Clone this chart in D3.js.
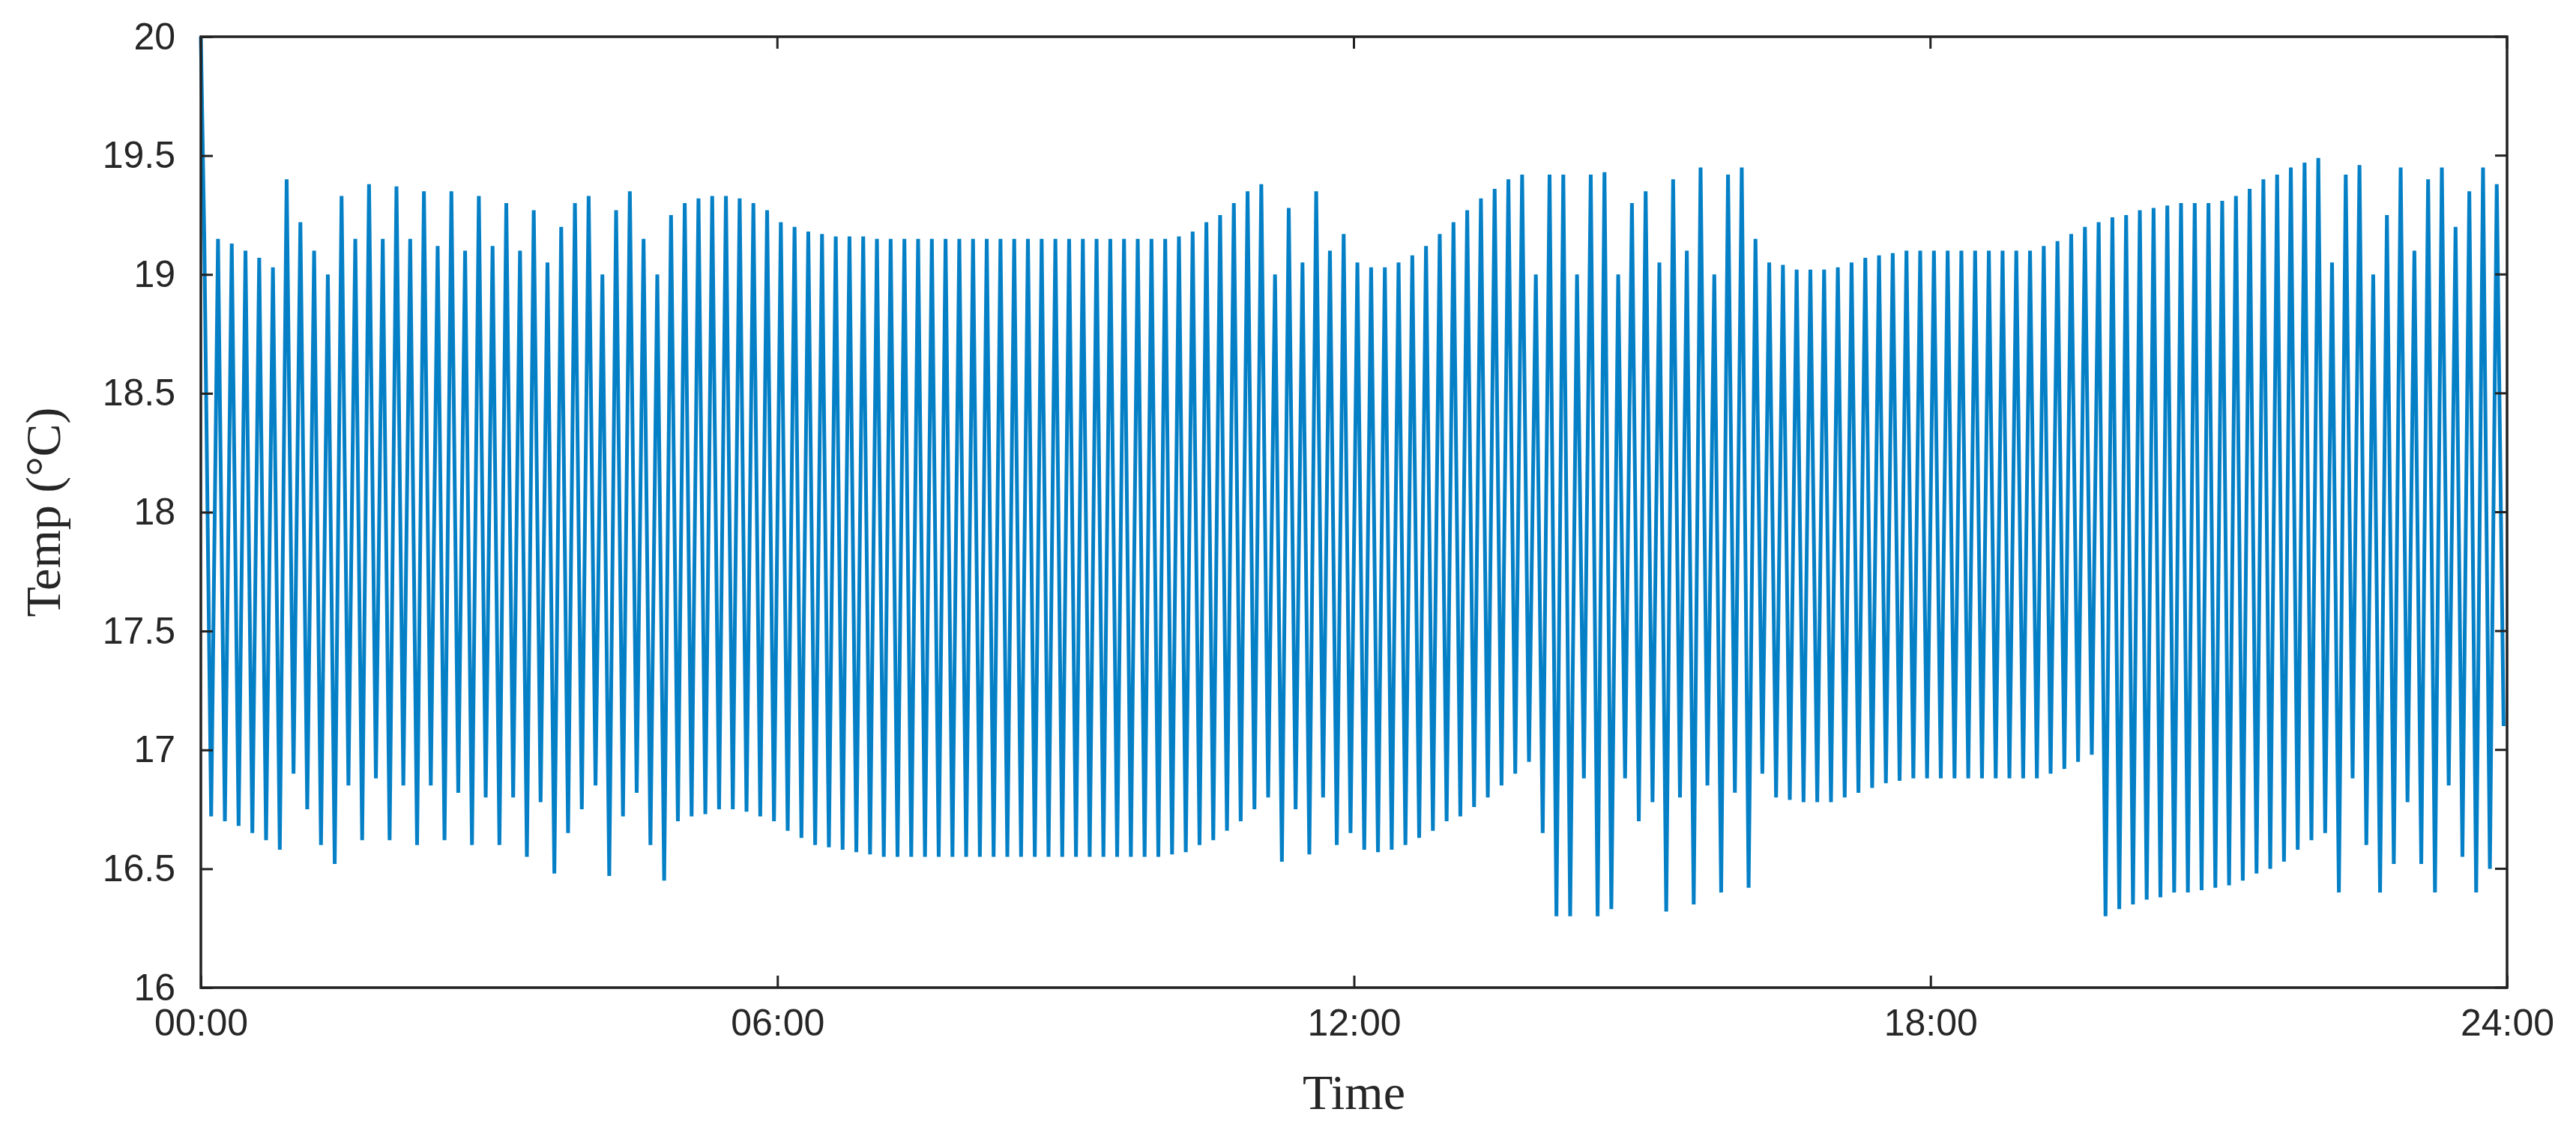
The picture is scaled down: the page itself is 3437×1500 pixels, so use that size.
<!DOCTYPE html>
<html><head><meta charset="utf-8">
<script src="https://cdn.jsdelivr.net/npm/d3@7"></script>
<style>body{margin:0;background:#fff}</style></head>
<body><svg id="c" width="3437" height="1500"></svg>
<script>
const yTicks=[16,16.5,17,17.5,18,18.5,19,19.5,20];
const xTickLabels=["00:00","06:00","12:00","18:00","24:00"];
const cyclesPerHour=7;
const startValue=20;
const peaks=[
19.15,19.15,19.13,19.1,19.07,19.03,19.4,
19.22,19.1,19.0,19.33,19.15,19.38,19.15,
19.37,19.15,19.35,19.12,19.35,19.1,19.33,
19.12,19.3,19.1,19.27,19.05,19.2,19.3,
19.33,19.0,19.27,19.35,19.15,19.0,19.25,
19.3,19.32,19.33,19.33,19.32,19.3,19.27,
19.22,19.2,19.18,19.17,19.16,19.16,19.16,
19.15,19.15,19.15,19.15,19.15,19.15,19.15,
19.15,19.15,19.15,19.15,19.15,19.15,19.15,
19.15,19.15,19.15,19.15,19.15,19.15,19.15,
19.15,19.16,19.18,19.22,19.25,19.3,19.35,
19.38,19.0,19.28,19.05,19.35,19.1,19.17,
19.05,19.03,19.03,19.05,19.08,19.12,19.17,
19.22,19.27,19.32,19.36,19.4,19.42,19.0,
19.42,19.42,19.0,19.42,19.43,19.0,19.3,
19.35,19.05,19.4,19.1,19.45,19.0,19.42,
19.45,19.15,19.05,19.04,19.02,19.02,19.02,
19.03,19.05,19.07,19.08,19.09,19.1,19.1,
19.1,19.1,19.1,19.1,19.1,19.1,19.1,
19.1,19.12,19.14,19.17,19.2,19.22,19.24,
19.25,19.27,19.28,19.29,19.3,19.3,19.3,
19.31,19.33,19.36,19.4,19.42,19.45,19.47,
19.49,19.05,19.42,19.46,19.0,19.25,19.45,
19.1,19.4,19.45,19.2,19.35,19.45,19.38];
const troughs=[
16.72,16.7,16.68,16.65,16.62,16.58,16.9,
16.75,16.6,16.52,16.85,16.62,16.88,16.62,
16.85,16.6,16.85,16.62,16.82,16.6,16.8,
16.6,16.8,16.55,16.78,16.48,16.65,16.75,
16.85,16.47,16.72,16.82,16.6,16.45,16.7,
16.72,16.73,16.75,16.75,16.74,16.72,16.7,
16.66,16.63,16.6,16.59,16.58,16.57,16.56,
16.55,16.55,16.55,16.55,16.55,16.55,16.55,
16.55,16.55,16.55,16.55,16.55,16.55,16.55,
16.55,16.55,16.55,16.55,16.55,16.55,16.55,
16.56,16.57,16.6,16.62,16.66,16.7,16.75,
16.8,16.53,16.75,16.56,16.8,16.6,16.65,
16.58,16.57,16.58,16.6,16.63,16.66,16.7,
16.72,16.76,16.8,16.85,16.9,16.95,16.65,
16.3,16.3,16.88,16.3,16.33,16.88,16.7,
16.78,16.32,16.8,16.35,16.85,16.4,16.82,
16.42,16.9,16.8,16.79,16.78,16.78,16.78,
16.8,16.82,16.84,16.86,16.87,16.88,16.88,
16.88,16.88,16.88,16.88,16.88,16.88,16.88,
16.88,16.9,16.92,16.95,16.98,16.3,16.33,
16.35,16.37,16.38,16.4,16.4,16.41,16.42,
16.43,16.45,16.48,16.5,16.53,16.58,16.62,
16.65,16.4,16.88,16.6,16.4,16.52,16.78,
16.52,16.4,16.85,16.55,16.4,16.5,17.1];

const L=268,R=3345,T=49,B=1318;
const svg=d3.select("#c");
const x=d3.scaleLinear().domain([0,24]).range([L,R]);
const y=d3.scaleLinear().domain([16,20]).range([B,T]);
const pts=[[0,startValue]];
peaks.forEach((p,i)=>{
  const t=(i+0.5)/cyclesPerHour;
  pts.push([t-0.25/cyclesPerHour,p]);
  pts.push([Math.min(24,t+0.25/cyclesPerHour),troughs[i]]);
});
svg.append("path").datum(pts).attr("fill","none").attr("stroke","#0580c6")
  .attr("stroke-width",5).attr("d",d3.line().x(d=>x(d[0])).y(d=>y(d[1])));
svg.append("rect").attr("x",L).attr("y",T).attr("width",R-L).attr("height",B-T)
  .attr("fill","none").attr("stroke","#222").attr("stroke-width",3.5);
const font="'Liberation Sans',Arial,sans-serif";
const yA=svg.append("g").attr("transform",`translate(${L},0)`)
  .call(d3.axisLeft(y).tickValues(yTicks).tickSize(-16).tickPadding(34).tickFormat(d3.format("")));
const xA=svg.append("g").attr("transform",`translate(0,${B})`)
  .call(d3.axisBottom(x).tickValues([0,6,12,18,24]).tickSize(-16).tickPadding(28).tickFormat((d,i)=>xTickLabels[i]));
[yA,xA].forEach(g=>{g.select(".domain").remove();
  g.selectAll("line").attr("stroke","#222").attr("stroke-width",3);
  g.selectAll("text").attr("font-family",font).attr("font-size",50).attr("fill","#262626");});
svg.selectAll(".tt").data([0,6,12,18,24]).enter().append("line")
  .attr("x1",d=>x(d)).attr("x2",d=>x(d)).attr("y1",T).attr("y2",T+16).attr("stroke","#222").attr("stroke-width",3);
svg.selectAll(".rt").data(yTicks).enter().append("line")
  .attr("x1",R).attr("x2",R-16).attr("y1",d=>y(d)).attr("y2",d=>y(d)).attr("stroke","#222").attr("stroke-width",3);
svg.append("text").attr("x",(L+R)/2).attr("y",1480).attr("text-anchor","middle")
  .attr("font-family","'Liberation Serif',serif").attr("font-size",66).attr("fill","#262626").text("Time");
svg.append("text").attr("transform",`translate(80,${(T+B)/2}) rotate(-90)`).attr("text-anchor","middle")
  .attr("font-family","'Liberation Serif',serif").attr("font-size",66).attr("fill","#262626").text("Temp (°C)");
</script></body></html>
